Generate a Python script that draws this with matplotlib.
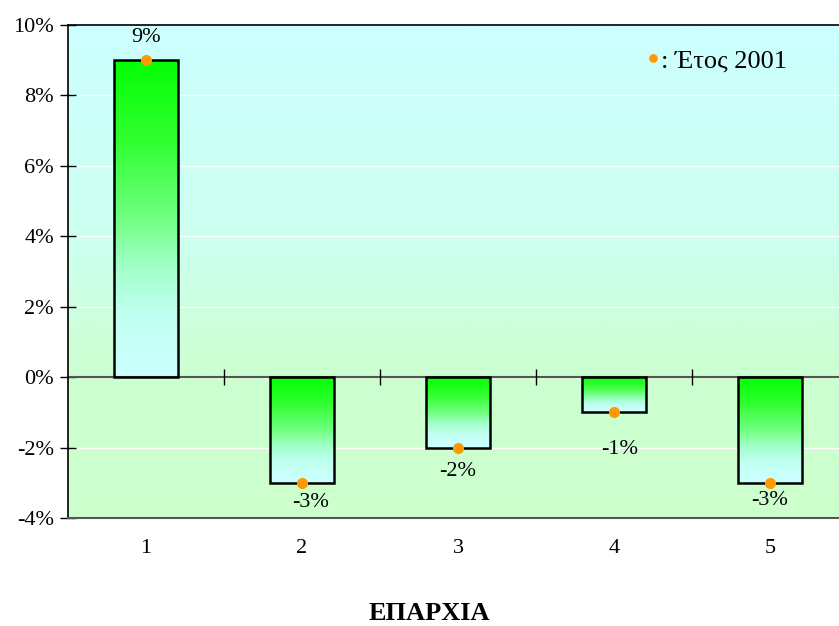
import matplotlib.pyplot as plt
import numpy as np
from matplotlib.colors import LinearSegmentedColormap
from matplotlib.patches import Rectangle

plt.rcParams['font.family'] = ['Liberation Serif', 'DejaVu Serif']

# Data
eparxies = [1, 2, 3, 4, 5]
metavoli = [9, -3, -2, -1, -3]
etiketes = ['9%', '-3%', '-2%', '-1%', '-3%']
yticks = [-4, -2, 0, 2, 4, 6, 8, 10]

# label offsets (points) as placed in the original
lbl_dx = [0, 6, 0, 4, 0]
lbl_dy = [16, -14.5, -17, -26.5, -13]

fig = plt.figure(figsize=(8.39, 6.26), dpi=100)
ax = fig.add_axes([68/839, 1-518/626, 780/839, 493/626])

ax.set_xlim(0.5, 5.5)
ax.set_ylim(-4, 10)

# background: cyan at top fading to pale green at the zero line, pale green below
bg = LinearSegmentedColormap.from_list('bg', [(0, '#ccffcc'), (4/14, '#ccffd0'),
                                              (0.55, '#ccffee'), (1, '#ccffff')])
ax.imshow(np.linspace(0, 1, 256).reshape(-1, 1), cmap=bg, origin='lower', aspect='auto',
          extent=(0.5, 5.5, -4, 10), zorder=0)
for y in yticks[1:-1]:
    ax.axhline(y, color='white', lw=1, zorder=1)

cmap = LinearSegmentedColormap.from_list('gr', [(0, '#ccffff'), (0.2, '#c0fff0'),
                                                (0.35, '#a0ffc8'), (0.5, '#70ff80'),
                                                (0.75, '#30ff30'), (1, '#05ff05')])
grad = np.linspace(0, 1, 256).reshape(-1, 1)
w = 0.41
for x, v in zip(eparxies, metavoli):
    lo, hi = min(0, v), max(0, v)
    im = ax.imshow(grad, cmap=cmap, origin='lower', aspect='auto',
                   extent=(x - w/2, x + w/2, lo, hi), zorder=2)
    r = Rectangle((x - w/2, lo), w, hi - lo, facecolor='none', edgecolor='black', lw=1.8, zorder=3)
    ax.add_patch(r)
    im.set_clip_path(r)

ax.axhline(0, color='#555555', lw=1.5, zorder=2.5)
ax.plot([1.5, 2.5, 3.5, 4.5], [0, 0, 0, 0], ls='none', marker='|', ms=12, mew=1, color='black', zorder=4)

ax.plot(eparxies, metavoli, ls='none', marker='o', ms=7, color='#ff9900', zorder=5,
        label=': Έτος 2001')

for x, v, t, dx, dy in zip(eparxies, metavoli, etiketes, lbl_dx, lbl_dy):
    ax.annotate(t, (x, v), xytext=(dx, dy), textcoords='offset points',
                ha='center', va='center', fontsize=16)

ax.set_xticks(eparxies)
ax.set_xticklabels([str(e) for e in eparxies], fontsize=16)
ax.tick_params(axis='x', length=0, pad=15)
ax.set_yticks(yticks)
ax.set_yticklabels([f'{y}%' for y in yticks], fontsize=16)
ax.tick_params(axis='y', direction='inout', length=12, width=1, pad=4)

for s in ['left', 'top']:
    ax.spines[s].set_color('black')
    ax.spines[s].set_linewidth(1.2)
ax.spines['bottom'].set_color('#555555')
ax.spines['bottom'].set_linewidth(1.5)
ax.spines['right'].set_visible(False)

fig.text(429/839, 1-613/626, 'ΕΠΑΡΧΙΑ', fontsize=19, fontweight='bold', ha='center', va='center')

ax.legend(loc='center left', bbox_to_anchor=(648/839, 1-61/626), bbox_transform=fig.transFigure,
          frameon=False, fontsize=19, handlelength=0.4, handletextpad=0.1, markerscale=0.75,
          borderpad=0, borderaxespad=0)

fig.savefig('out.png', dpi=100)
